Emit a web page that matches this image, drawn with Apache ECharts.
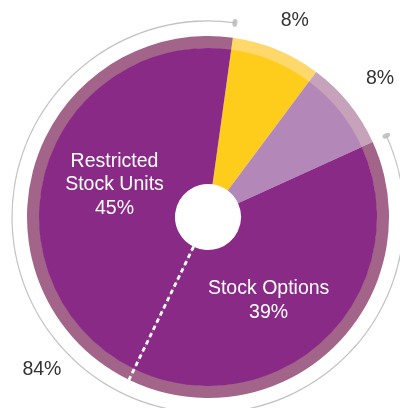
<!DOCTYPE html>
<html><head><meta charset="utf-8">
<script src="https://cdn.jsdelivr.net/npm/echarts@6/dist/echarts.min.js"></script>
<style>html,body{margin:0;padding:0;background:#fff}#c{width:400px;height:408px}</style>
</head><body><div id="c"></div>
<script>
// Data
const categories = ['Performance Shares', 'Other', 'Stock Options', 'Restricted\nStock Units'];
const values = [8, 8, 39, 45];
const showInside = [false, false, true, true];
const groupLabels = ['8%', '8%', '84%'];
const groupValues = [8, 8, 84];
const bracketEnds = [16, 100]; // cumulative % where the 84% bracket starts/ends
const dividerAt = 55; // cumulative % of dashed divider (SO | RSU)

const fillColors = ['#fecc1b', '#b387b7', '#8a2a87', '#8a2a87'];
const ringColors = ['#fed86b', '#c6a3bb', '#a26488', '#a26488'];

const CX = 208, CY = 217;
const START = 82.1;
const FONT = '"Liberation Sans", Arial, sans-serif';

const chart = echarts.init(document.getElementById('c'), null, {renderer: 'canvas'});

const mainData = categories.map((n, i) => ({
  name: n, value: values[i],
  itemStyle: {color: fillColors[i]},
  label: {show: showInside[i], offset: i === 2 ? [-12, 9] : [6, -2]}
}));
const ringData = categories.map((n, i) => ({name: n, value: values[i], itemStyle: {color: ringColors[i]}}));
const arcData = groupValues.map((v, i) => ({
  name: 'g' + i, value: v,
  itemStyle: {color: i === 2 ? '#c2c2c2' : 'rgba(0,0,0,0)'}
}));
const outLabelData = groupValues.map((v, i) => ({
  name: groupLabels[i], value: v,
  itemStyle: {color: 'rgba(0,0,0,0)'},
  label: {offset: i === 2 ? [-34, -25] : (i === 0 ? [3, 8] : [0, 0])}
}));

chart.setOption({
  animation: false,
  polar: {center: [CX, CY], radius: 196},
  angleAxis: {type: 'value', min: 0, max: 100, startAngle: START, clockwise: true, show: false,
    axisLine: {show: false}, splitLine: {show: false}, axisLabel: {show: false}, axisTick: {show: false}},
  radiusAxis: {type: 'value', min: 0, max: 196, show: false,
    axisLine: {show: false}, splitLine: {show: false}, axisLabel: {show: false}, axisTick: {show: false}},
  series: [
    {
      type: 'pie', center: [CX, CY], radius: [33, 169], startAngle: START, clockwise: true,
      silent: true, z: 1, data: mainData,
      label: {show: true, position: 'inside', color: '#fff', fontSize: 19.5, lineHeight: 23.5,
        fontFamily: FONT, formatter: p => p.name + '\n' + p.value + '%'},
      labelLine: {show: false}, itemStyle: {borderWidth: 0}
    },
    {
      type: 'pie', center: [CX, CY], radius: [168.5, 181], startAngle: START, clockwise: true,
      silent: true, z: 0, data: ringData, label: {show: false}, labelLine: {show: false},
      itemStyle: {borderWidth: 0}
    },
    {
      type: 'pie', center: [CX, CY], radius: [195.4, 196.6], startAngle: START, clockwise: true,
      silent: true, data: arcData, label: {show: false}, labelLine: {show: false},
      itemStyle: {borderWidth: 0}
    },
    {
      type: 'pie', center: [CX, CY], radius: [206, 230], startAngle: START, clockwise: true,
      silent: true, data: outLabelData,
      label: {show: true, position: 'inside', color: '#333', fontSize: 19.5, fontFamily: FONT,
        formatter: p => p.name},
      labelLine: {show: false}, itemStyle: {borderWidth: 0}
    },
    {
      type: 'line', coordinateSystem: 'polar', silent: true, symbol: 'none', z: 10,
      data: [[33, dividerAt], [181, dividerAt]],
      lineStyle: {color: '#fff', width: 2.8, type: [4.5, 3.5]}
    },
    {
      type: 'scatter', coordinateSystem: 'polar', silent: true, z: 10,
      data: bracketEnds.map(a => ({value: [196, a], symbolRotate: -((90 - START) + a * 3.6)})),
      symbol: 'circle', symbolSize: [5, 8],
      itemStyle: {color: '#b5b5b5'}
    }
  ]
});
</script></body></html>
